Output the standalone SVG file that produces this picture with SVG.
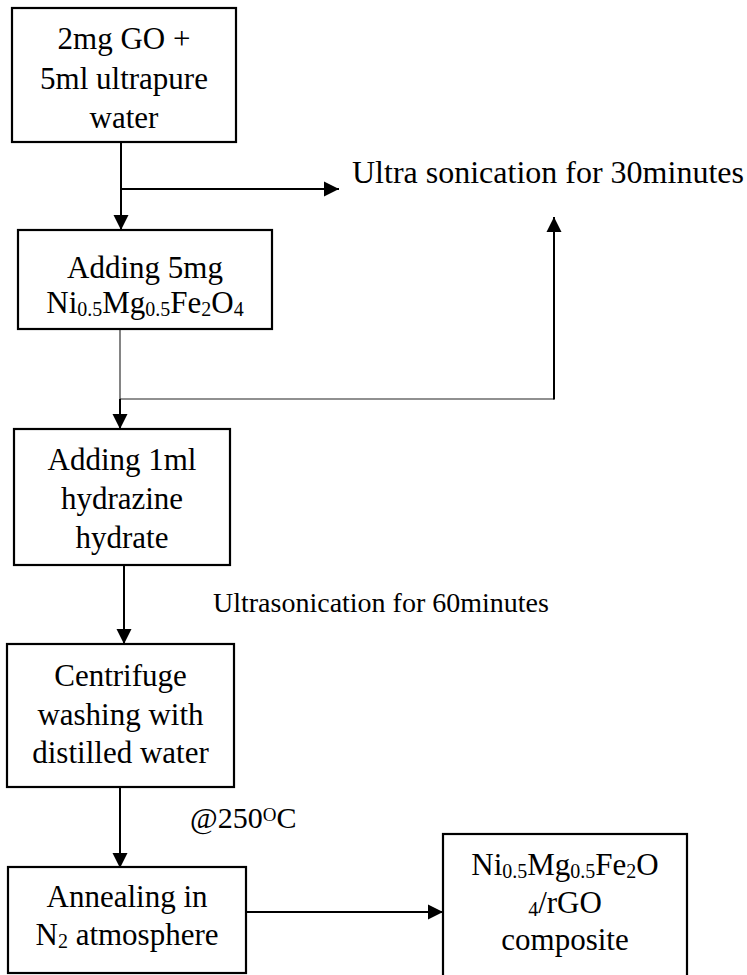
<svg xmlns="http://www.w3.org/2000/svg" width="747" height="975" viewBox="0 0 747 975">
<style>
  .box { fill: #fff; stroke: #000; stroke-width: 2.2; }
  .t { font-family: "Liberation Serif", "Times New Roman", serif; font-size: 31px; fill: #000; }
  .c { text-anchor: middle; }
  .s { font-size: 20px; }
  .ln { stroke: #000; stroke-width: 2; fill: none; }
  .thin { stroke: #222; stroke-width: 1.1; fill: none; }
</style>
<defs>
  <marker id="ah" markerUnits="userSpaceOnUse" markerWidth="16" markerHeight="16" viewBox="0 0 16 16" refX="15" refY="8" orient="auto">
    <path d="M0,0.5 L15,8 L0,15.5 Z" fill="#000"/>
  </marker>
</defs>
<rect width="747" height="975" fill="#fff"/>

<g id="connectors">
  <line class="ln" x1="121" y1="142" x2="121" y2="230" marker-end="url(#ah)"/>
  <line class="ln" x1="121" y1="189" x2="339" y2="189" marker-end="url(#ah)"/>
  <polyline class="thin" points="120,329 120,399 554,399"/>
  <line class="ln" x1="554" y1="399.5" x2="554" y2="217" marker-end="url(#ah)"/>
  <line class="ln" x1="120" y1="399" x2="120" y2="429" marker-end="url(#ah)"/>
  <line class="ln" x1="124" y1="565" x2="124" y2="644" marker-end="url(#ah)"/>
  <line class="ln" x1="120" y1="787" x2="120" y2="868" marker-end="url(#ah)"/>
  <line class="ln" x1="246" y1="912" x2="443" y2="912" marker-end="url(#ah)"/>
</g>

<g id="n1">
  <rect class="box" x="12" y="8" width="224" height="134"/>
  <text class="t c" x="124" y="49">2mg GO +</text>
  <text class="t c" x="124" y="89">5ml ultrapure</text>
  <text class="t c" x="124" y="128">water</text>
</g>

<g id="label1">
  <text class="t" x="352" y="183" style="font-size:32px">Ultra sonication for 30minutes</text>
</g>

<g id="n2">
  <rect class="box" x="18" y="230" width="254" height="99"/>
  <text class="t c" x="145" y="278">Adding 5mg</text>
  <text class="t c" x="145" y="313">Ni<tspan class="s" dy="3">0.5</tspan><tspan dy="-3">Mg</tspan><tspan class="s" dy="3">0.5</tspan><tspan dy="-3">Fe</tspan><tspan class="s" dy="3">2</tspan><tspan dy="-3">O</tspan><tspan class="s" dy="3">4</tspan></text>
</g>

<g id="n3">
  <rect class="box" x="14" y="429" width="216" height="136"/>
  <text class="t c" x="122" y="470">Adding 1ml</text>
  <text class="t c" x="122" y="509">hydrazine</text>
  <text class="t c" x="122" y="548">hydrate</text>
</g>

<g id="label2">
  <text class="t" x="213" y="612" style="font-size:28px">Ultrasonication for 60minutes</text>
</g>

<g id="n4">
  <rect class="box" x="7" y="644" width="227" height="143"/>
  <text class="t c" x="120.5" y="686">Centrifuge</text>
  <text class="t c" x="120.5" y="725">washing with</text>
  <text class="t c" x="120.5" y="763">distilled water</text>
</g>

<g id="label3">
  <text class="t" x="190" y="828" style="font-size:30px">@250<tspan style="font-size:19px" dy="-7">O</tspan><tspan dy="7">C</tspan></text>
</g>

<g id="n5">
  <rect class="box" x="8" y="867" width="238" height="106"/>
  <text class="t c" x="127" y="907">Annealing in</text>
  <text class="t c" x="127" y="945">N<tspan class="s" dy="3">2</tspan><tspan dy="-3"> atmosphere</tspan></text>
</g>

<g id="n6">
  <rect class="box" x="443" y="834" width="244" height="160"/>
  <text class="t c" x="565" y="875">Ni<tspan class="s" dy="3">0.5</tspan><tspan dy="-3">Mg</tspan><tspan class="s" dy="3">0.5</tspan><tspan dy="-3">Fe</tspan><tspan class="s" dy="3">2</tspan><tspan dy="-3">O</tspan></text>
  <text class="t c" x="565" y="913"><tspan class="s" dy="3">4</tspan><tspan dy="-3">/rGO</tspan></text>
  <text class="t c" x="565" y="950">composite</text>
</g>
</svg>
